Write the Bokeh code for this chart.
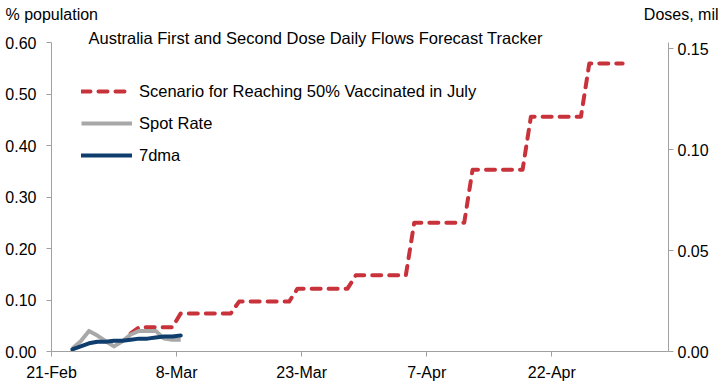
import pandas as pd
from bokeh.plotting import figure
from bokeh.models import (Range1d, LinearAxis, FixedTicker, NumeralTickFormatter,
                          Legend, LegendItem, Label)
from bokeh.embed import file_html
from bokeh.resources import INLINE

# ---------------- data ----------------
axis_start = "2021-02-21"
axis_end = "2021-05-06"
tick_dates = ["2021-02-21", "2021-03-08", "2021-03-23", "2021-04-07", "2021-04-22"]
tick_labels = ["21-Feb", "8-Mar", "23-Mar", "7-Apr", "22-Apr"]

scenario_dates = ["2021-03-02", "2021-03-03", "2021-03-07", "2021-03-08", "2021-03-14",
                  "2021-03-15", "2021-03-21", "2021-03-22", "2021-03-28", "2021-03-29",
                  "2021-04-04", "2021-04-05", "2021-04-11", "2021-04-12", "2021-04-18",
                  "2021-04-19", "2021-04-25", "2021-04-26", "2021-04-30"]
scenario_vals = [0.035, 0.047, 0.047, 0.074, 0.074,
                 0.097, 0.097, 0.122, 0.122, 0.148,
                 0.148, 0.250, 0.250, 0.353, 0.353,
                 0.456, 0.456, 0.559, 0.559]

spot_dates = ["2021-02-23", "2021-02-24", "2021-02-25", "2021-02-26", "2021-02-27",
              "2021-02-28", "2021-03-01", "2021-03-02", "2021-03-03", "2021-03-04",
              "2021-03-05", "2021-03-06", "2021-03-07", "2021-03-08"]
spot_vals = [0.006, 0.020, 0.040, 0.031, 0.020, 0.010, 0.020, 0.033, 0.040, 0.040,
             0.040, 0.025, 0.023, 0.023]
dma_vals = [0.004, 0.010, 0.016, 0.019, 0.019, 0.021, 0.021, 0.023, 0.025, 0.025,
            0.027, 0.029, 0.029, 0.031]

pct_ticks = [0.0, 0.1, 0.2, 0.3, 0.4, 0.5, 0.6]
pct_max = 0.6
dose_ticks = [0.0, 0.05, 0.10, 0.15]
dose_max = 0.153

# ---------------- layout ----------------
t0 = pd.Timestamp(axis_start)
POINT_OFFSET = 0.5  # points sit mid-day between date ticks


def day(d):
    return (pd.Timestamp(d) - t0).days


def xs(dates):
    return [day(d) + POINT_OFFSET for d in dates]


FONT = "Liberation Sans"
AXIS_GREY = "#A0A0A0"
W, H = 720, 390
# plot-area box inside the canvas (pixels): left, right, top, bottom
PL, PR, PT, PB = 51, 668, 42, 351
x_days = day(axis_end)
kx = x_days / (PR - PL)
x_lo, x_hi = -PL * kx, x_days + (W - PR) * kx
ky = pct_max / (PB - PT)
y_lo, y_hi = -(H - PB) * ky, PB * ky
kd = dose_max / (PB - PT)
d_lo, d_hi = -(H - PB) * kd, PB * kd

p = figure(width=W, height=H, output_backend="svg", toolbar_location=None,
           x_range=Range1d(x_lo, x_hi), y_range=Range1d(y_lo, y_hi),
           min_border=0)
p.grid.visible = False
p.outline_line_color = None
p.background_fill_color = "white"
p.border_fill_color = "white"

r_scen = p.line(xs(scenario_dates), scenario_vals, line_color="#C8323A", line_width=4,
                line_dash="9 8", line_cap="round", line_join="round")
r_spot = p.line(xs(spot_dates), spot_vals, line_color="#A8A8A8", line_width=4,
                line_join="round")
r_dma = p.line(xs(spot_dates), dma_vals, line_color="#0E3D6E", line_width=4,
               line_join="round", line_cap="round")


def style_axis(ax):
    ax.axis_line_color = AXIS_GREY
    ax.major_tick_line_color = AXIS_GREY
    ax.minor_tick_line_color = None
    ax.major_tick_in = 0
    ax.major_tick_out = 5
    ax.major_label_text_font = FONT
    ax.major_label_text_font_size = "16px"
    ax.major_label_text_color = "black"


xa = p.xaxis[0]
style_axis(xa)
xa.fixed_location = 0
xa.bounds = (0, x_days)
xa.ticker = FixedTicker(ticks=[day(d) for d in tick_dates])
xa.major_label_overrides = {day(d): lab for d, lab in zip(tick_dates, tick_labels)}
xa.major_label_standoff = 7

ya = p.yaxis[0]
style_axis(ya)
ya.fixed_location = 0
ya.bounds = (0, pct_max)
ya.ticker = FixedTicker(ticks=pct_ticks)
ya.formatter = NumeralTickFormatter(format="0.00")
ya.major_label_standoff = 10

p.extra_y_ranges = {"doses": Range1d(d_lo, d_hi)}
ra = LinearAxis(y_range_name="doses", fixed_location=x_days, bounds=(0, dose_max))
style_axis(ra)
ra.ticker = FixedTicker(ticks=dose_ticks)
ra.formatter = NumeralTickFormatter(format="0.00")
ra.major_label_standoff = 4
p.add_layout(ra, "right")

# texts (screen units from the canvas' bottom-left)
p.add_layout(Label(x=88, y=H - 37, x_units="screen", y_units="screen",
                   text_baseline="middle",
                   text="Australia First and Second Dose Daily Flows Forecast Tracker",
                   text_font=FONT, text_font_size="16.5px", text_color="black"))
p.add_layout(Label(x=5, y=H - 14, x_units="screen", y_units="screen",
                   text_baseline="middle",
                   text="% population", text_font=FONT, text_font_size="16px",
                   text_color="black"))
p.add_layout(Label(x=718, y=H - 14, x_units="screen", y_units="screen",
                   text_baseline="middle", text_align="right", text="Doses, mil",
                   text_font=FONT, text_font_size="16px", text_color="black"))

legend = Legend(items=[LegendItem(label="Scenario for Reaching 50% Vaccinated in July", renderers=[r_scen]),
                       LegendItem(label="Spot Rate", renderers=[r_spot]),
                       LegendItem(label="7dma", renderers=[r_dma])],
                location=(PL + 30, 186 + H - PB), background_fill_alpha=0,
                border_line_color=None,
                padding=0, margin=0, spacing=12, glyph_width=51, glyph_height=20,
                label_height=20, label_standoff=7, label_text_font=FONT,
                label_text_font_size="16.5px", label_text_color="black")
p.add_layout(legend)

open("out.html", "w").write(file_html(p, INLINE))
